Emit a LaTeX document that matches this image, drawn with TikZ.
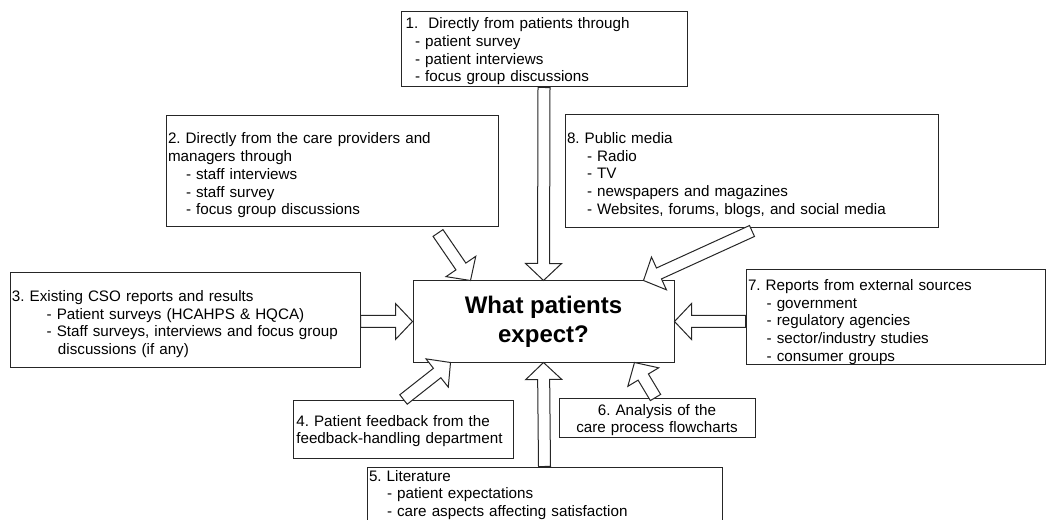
\documentclass[tikz,border=0pt]{standalone}
\usepackage{fontspec}
\setmainfont{Liberation Sans}
\usetikzlibrary{calc}
\frenchspacing
\hyphenpenalty=10000

% block arrow from a tail point to a tip point
\newcommand\blockarrow[2]{%
  \path ($(#2)!12.75pt!(#1)$) coordinate (bah);
  \draw[arrowbody] ($(#1)!4.5pt!90:(#2)$) -- ($(bah)!4.5pt!90:(#2)$)
    -- ($(bah)!13.5pt!90:(#2)$) -- (#2) -- ($(bah)!13.5pt!-90:(#2)$)
    -- ($(bah)!4.5pt!-90:(#2)$) -- ($(#1)!4.5pt!-90:(#2)$) -- cycle;
}
% one line of text that is never broken
\newcommand\oneline[1]{\makebox[0pt][l]{#1}}
% taller first line, to lower the text block inside its box
\newcommand\liftline[1]{\rule{0pt}{#1}}

\tikzset{
  box/.style={draw=black!85, line width=0.75pt, fill=white, inner xsep=1.5pt,
    inner ysep=0pt, align=left, font=\fontsize{11.4}{13.3}\selectfont},
  titlebox/.style={draw=black!85, line width=0.75pt, fill=white, align=center,
    minimum width=195.75pt, minimum height=60.75pt,
    font=\fontsize{18}{21.75}\selectfont\bfseries},
  arrowbody/.style={draw=black!85, line width=0.75pt, fill=white, line join=miter}
}

\begin{document}
\begin{tikzpicture}[x=0.75pt, y=-0.75pt]
\useasboundingbox (0,0) rectangle (1046,520);
\clip (0,0) rectangle (1046,520);

% central question
\node[titlebox] (bc) at (543.5,321.5) {What patients\\expect?};

% sources
\node[box, text width=211.5pt, minimum height=56.25pt] (b1) at (544,49.5)
  {\liftline{11.2pt}\hspace*{2pt}1.\ \ Directly from patients through\\
   \hspace*{9pt}- patient survey\\
   \hspace*{9pt}- patient interviews\\
   \hspace*{9pt}- focus group discussions};

\node[box, text width=246pt, minimum height=83.25pt] (b2) at (332,171.5)
  {\liftline{14.2pt}2. Directly from the care providers and\\
   managers through\\
   \hspace*{13.5pt}- staff interviews\\
   \hspace*{13.5pt}- staff survey\\
   \hspace*{13.5pt}- focus group discussions};

\node[box, text width=276.75pt, minimum height=84.75pt] (b8) at (751.5,171)
  {\liftline{14.2pt}8. Public media\\
   \hspace*{15pt}- Radio\\
   \hspace*{15pt}- TV\\
   \hspace*{15pt}- newspapers and magazines\\
   \hspace*{15pt}\oneline{- Websites, forums, blogs, and social media}};

\node[box, text width=259.5pt, minimum height=70.5pt] (b3) at (185,320)
  {\liftline{14.2pt}3. Existing CSO reports and results\\
   \hspace*{26pt}- Patient surveys (HCAHPS \& HQCA)\\
   \hspace*{26pt}\oneline{- Staff surveys, interviews and focus group}\\
   \hspace*{34.5pt}discussions (if any)};

\node[box, text width=221.25pt, minimum height=61.5pt] (b7) at (895.5,317)
  {\liftline{15.7pt}7. Reports from external sources\\
   \hspace*{14pt}- government\\
   \hspace*{14pt}- regulatory agencies\\
   \hspace*{14pt}- sector/industry studies\\
   \hspace*{14pt}- consumer groups};

\node[box, text width=162pt, minimum height=43.5pt] (b4) at (403,429)
  {\liftline{11.2pt}\hspace*{1pt}4. Patient feedback from the\\
   \hspace*{1pt}\oneline{feedback-handling department}};

\node[box, text width=144pt, minimum height=29.25pt, align=center] (b6) at (657,417.5)
  {\liftline{12pt}6. Analysis of the\\care process flowcharts};

\node[box, text width=263.25pt, minimum height=42pt] (b5) at (544.5,495)
  {5. Literature\\
   \hspace*{13.5pt}- patient expectations\\
   \hspace*{13.5pt}- care aspects affecting satisfaction};

% arrow end points
\coordinate (t3) at (b3.east |- bc.west);
\coordinate (t7) at (b7.west |- bc.east);
\coordinate (s2) at (438,233);
\coordinate (e2) at ($(bc.north west)+(58,0)$);
\coordinate (s8) at (752,231);
\coordinate (e8) at ($(bc.north east)+(-31,0)$);
\coordinate (s4) at ($(b4.north west)+(111,0)$);
\coordinate (e4) at ($(bc.south west)+(38,0)$);
\coordinate (s6) at ($(b6.north west)+(97,0)$);
\coordinate (e6) at ($(bc.south east)+(-40,0)$);

% block arrows into the central question
\blockarrow{b1.south}{bc.north}
\blockarrow{b5.north}{bc.south}
\blockarrow{t3}{bc.west}
\blockarrow{t7}{bc.east}
\blockarrow{s2}{e2}
\blockarrow{s8}{e8}
\blockarrow{s4}{e4}
\blockarrow{s6}{e6}
\end{tikzpicture}
\end{document}
